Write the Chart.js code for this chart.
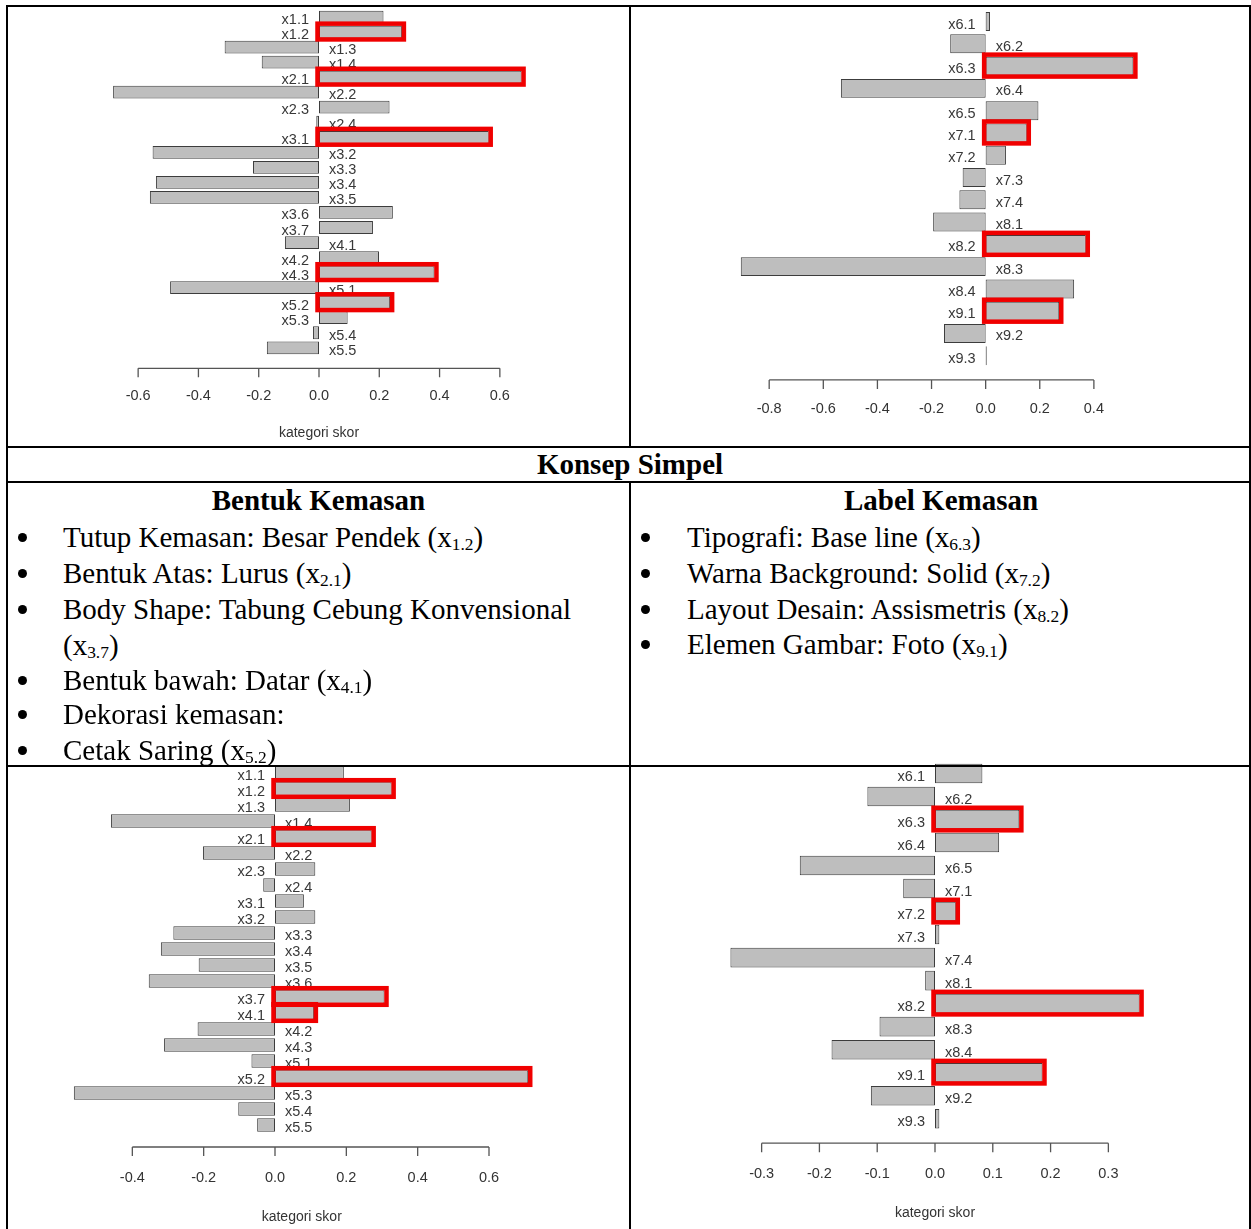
<!DOCTYPE html>
<html>
<head>
<meta charset="utf-8">
<script src="https://cdn.jsdelivr.net/npm/chart.js@4.4.0/dist/chart.umd.min.js"></script>
<style>
  body { margin: 0; background: #fff; width: 1251px; height: 1229px; position: relative; overflow: hidden;
         font-family: "Liberation Serif", "Times New Roman", serif; }
  canvas { position: absolute; }
  .ln { position: absolute; background: #000; z-index: 5; }
  .t { position: absolute; font-size: 29px; line-height: 36px; color: #000; white-space: nowrap; }
  .h { font-weight: bold; text-align: center; }
  .dot { position: absolute; width: 9px; height: 9px; border-radius: 50%; background: #000; }
  sub { font-size: 0.6em; vertical-align: -0.2em; line-height: 0; }
</style>
</head>
<body>

<!-- garis tabel -->
<div class="ln" style="left:6px;top:5px;width:1245px;height:2px"></div>
<div class="ln" style="left:6px;top:446px;width:1245px;height:2px"></div>
<div class="ln" style="left:6px;top:481px;width:1245px;height:2px"></div>
<div class="ln" style="left:6px;top:765px;width:1245px;height:2px"></div>
<div class="ln" style="left:6px;top:5px;width:2px;height:1224px"></div>
<div class="ln" style="left:629px;top:5px;width:2px;height:441px"></div>
<div class="ln" style="left:629px;top:481px;width:2px;height:748px"></div>
<div class="ln" style="left:1249px;top:5px;width:2px;height:1224px"></div>

<canvas id="atasKiri" width="620" height="438" style="left:8px;top:7px"></canvas>
<canvas id="atasKanan" width="617" height="438" style="left:632px;top:7px"></canvas>
<canvas id="bawahKiri" width="620" height="467" style="left:8px;top:762px"></canvas>
<canvas id="bawahKanan" width="617" height="471" style="left:632px;top:758px"></canvas>

<div class="t h" style="left:0;width:1260px;top:447px;line-height:34px">Konsep Simpel</div>

<div class="t h" style="left:8px;width:621px;top:482px">Bentuk Kemasan</div>
<div class="dot" style="left:18px;top:533px"></div>
<div class="t" style="left:63px;top:519px">Tutup Kemasan: Besar Pendek (x<sub>1.2</sub>)</div>
<div class="dot" style="left:18px;top:569px"></div>
<div class="t" style="left:63px;top:555px">Bentuk Atas: Lurus (x<sub>2.1</sub>)</div>
<div class="dot" style="left:18px;top:605px"></div>
<div class="t" style="left:63px;top:591px">Body Shape: Tabung Cebung Konvensional</div>
<div class="t" style="left:63px;top:627px">(x<sub>3.7</sub>)</div>
<div class="dot" style="left:18px;top:676px"></div>
<div class="t" style="left:63px;top:662px">Bentuk bawah: Datar (x<sub>4.1</sub>)</div>
<div class="dot" style="left:18px;top:710px"></div>
<div class="t" style="left:63px;top:696px">Dekorasi kemasan:</div>
<div class="dot" style="left:18px;top:746px"></div>
<div class="t" style="left:63px;top:732px">Cetak Saring (x<sub>5.2</sub>)</div>

<div class="t h" style="left:631px;width:620px;top:482px">Label Kemasan</div>
<div class="dot" style="left:641px;top:533px"></div>
<div class="t" style="left:687px;top:519px">Tipografi: Base line (x<sub>6.3</sub>)</div>
<div class="dot" style="left:641px;top:569px"></div>
<div class="t" style="left:687px;top:555px">Warna Background: Solid (x<sub>7.2</sub>)</div>
<div class="dot" style="left:641px;top:605px"></div>
<div class="t" style="left:687px;top:591px">Layout Desain: Assismetris (x<sub>8.2</sub>)</div>
<div class="dot" style="left:641px;top:640px"></div>
<div class="t" style="left:687px;top:626px">Elemen Gambar: Foto (x<sub>9.1</sub>)</div>

<script>
const labelsKiri = ['x1.1','x1.2','x1.3','x1.4','x2.1','x2.2','x2.3','x2.4','x3.1','x3.2','x3.3','x3.4',
                    'x3.5','x3.6','x3.7','x4.1','x4.2','x4.3','x5.1','x5.2','x5.3','x5.4','x5.5'];
const labelsKanan = ['x6.1','x6.2','x6.3','x6.4','x6.5','x7.1','x7.2','x7.3','x7.4','x8.1','x8.2','x8.3',
                     'x8.4','x9.1','x9.2','x9.3'];

// skor kategori
const skorAtasKiri = [0.214, 0.275, -0.313, -0.190, 0.672, -0.683, 0.234, -0.009, 0.563, -0.552, -0.219, -0.541,
                      -0.561, 0.245, 0.179, -0.113, 0.199, 0.383, -0.494, 0.236, 0.095, -0.020, -0.173];
const skorAtasKanan = [0.016, -0.131, 0.546, -0.535, 0.195, 0.152, 0.075, -0.085, -0.097, -0.194, 0.370, -0.905,
                       0.327, 0.272, -0.154, 0.004];
const skorBawahKiri = [0.193, 0.327, 0.210, -0.460, 0.271, -0.202, 0.113, -0.033, 0.081, 0.113, -0.285, -0.320,
                       -0.214, -0.354, 0.307, 0.109, -0.217, -0.311, -0.066, 0.710, -0.564, -0.103, -0.050];
const skorBawahKanan = [0.082, -0.117, 0.146, 0.111, -0.234, -0.055, 0.036, 0.0075, -0.354, -0.017, 0.354, -0.096,
                        -0.179, 0.186, -0.111, 0.0075];

// tick sumbu x
const tickAtasKiri = [-0.6, -0.4, -0.2, 0.0, 0.2, 0.4, 0.6];
const tickAtasKanan = [-0.8, -0.6, -0.4, -0.2, 0.0, 0.2, 0.4];
const tickBawahKiri = [-0.4, -0.2, 0.0, 0.2, 0.4, 0.6];
const tickBawahKanan = [-0.3, -0.2, -0.1, 0.0, 0.1, 0.2, 0.3];

// kategori yang diberi kotak merah
const pilihAtasKiri = ['x1.2', 'x2.1', 'x3.1', 'x4.3', 'x5.2'];
const pilihAtasKanan = ['x6.3', 'x7.1', 'x8.2', 'x9.1'];
const pilihBawahKiri = ['x1.2', 'x2.1', 'x3.7', 'x4.1', 'x5.2'];
const pilihBawahKanan = ['x6.3', 'x7.2', 'x8.2', 'x9.1'];

Chart.defaults.font.family = '"Liberation Sans", Arial, sans-serif';

// label kategori di samping garis nol, sisi berlawanan dari batang
const labelNol = {
  id: 'labelNol',
  afterDatasetsDraw(chart) {
    const ctx = chart.ctx;
    const x0 = chart.scales.x.getPixelForValue(0);
    const data = chart.data.datasets[0].data;
    ctx.save();
    ctx.font = '14.5px "Liberation Sans", Arial, sans-serif';
    ctx.fillStyle = '#383838';
    ctx.textBaseline = 'middle';
    chart.getDatasetMeta(0).data.forEach((bar, i) => {
      if (data[i] >= 0) {
        ctx.textAlign = 'right';
        ctx.fillText(chart.data.labels[i], x0 - 10, bar.y + 3);
      } else {
        ctx.textAlign = 'left';
        ctx.fillText(chart.data.labels[i], x0 + 10, bar.y + 3);
      }
    });
    ctx.restore();
  }
};

// kotak merah + garis sumbu gaya R
const hiasan = {
  id: 'hiasan',
  afterDraw(chart, args, opt) {
    const ctx = chart.ctx;
    const sx = chart.scales.x;
    ctx.save();
    ctx.strokeStyle = '#f00000';
    ctx.lineWidth = 4.5;
    chart.getDatasetMeta(0).data.forEach((bar, i) => {
      if (!opt.pilih.includes(chart.data.labels[i])) return;
      const l = Math.min(bar.x, bar.base) - 1.5;
      const r = Math.max(bar.x, bar.base) + 2;
      const t = bar.y - bar.height / 2 - 2;
      const b = bar.y + bar.height / 2 + 1;
      ctx.strokeRect(l, t, r - l, b - t);
    });
    const y = chart.chartArea.bottom + opt.jarak;
    ctx.strokeStyle = '#555';
    ctx.lineWidth = 1.3;
    ctx.beginPath();
    ctx.moveTo(sx.getPixelForValue(opt.ticks[0]), y);
    ctx.lineTo(sx.getPixelForValue(opt.ticks[opt.ticks.length - 1]), y);
    opt.ticks.forEach(v => {
      const px = sx.getPixelForValue(v);
      ctx.moveTo(px, y);
      ctx.lineTo(px, y + 9);
    });
    ctx.stroke();
    ctx.restore();
  }
};

function buatChart(id, labels, skor, ticks, pilih, set) {
  const ctx = document.getElementById(id).getContext('2d');
  return new Chart(ctx, {
    type: 'bar',
    data: {
      labels: labels,
      datasets: [{
        data: skor,
        backgroundColor: '#bebebe',
        borderColor: '#3c3c3c',
        borderWidth: 1,
        borderSkipped: false,
        categoryPercentage: 1.0,
        barPercentage: 0.85
      }]
    },
    options: {
      indexAxis: 'y',
      responsive: false,
      animation: false,
      devicePixelRatio: 1,
      layout: { padding: { top: set.top, left: set.left, right: set.right, bottom: 0 } },
      scales: {
        y: { display: false, offset: true },
        x: {
          type: 'linear',
          min: set.min,
          max: set.max,
          grid: { display: false, drawTicks: false },
          border: { display: false },
          afterBuildTicks: s => { s.ticks = ticks.map(v => ({ value: v })); },
          afterFit: s => { s.height = set.tinggi; },
          ticks: {
            padding: set.pad,
            color: '#333',
            font: { size: 14.5 },
            callback: v => Number(v).toFixed(1)
          },
          title: {
            display: set.judul,
            text: 'kategori skor',
            color: '#333',
            font: { size: 14 },
            padding: { top: 4, bottom: set.jb }
          }
        }
      },
      plugins: {
        legend: { display: false },
        tooltip: { enabled: false },
        hiasan: { pilih: pilih, ticks: ticks, jarak: set.jarak }
      }
    },
    plugins: [labelNol, hiasan]
  });
}

buatChart('atasKiri', labelsKiri, skorAtasKiri, tickAtasKiri, pilihAtasKiri,
  { min: -0.7, max: 0.7, top: 2.5, left: 100, right: 98, tinggi: 89.7, pad: 32, judul: true, jb: 3, jarak: 13 });
buatChart('atasKanan', labelsKanan, skorAtasKanan, tickAtasKanan, pilihAtasKanan,
  { min: -0.95, max: 0.6, top: 3.4, left: 96.6, right: 101, tinggi: 78.1, pad: 33, judul: false, jb: 4, jarak: 13 });
buatChart('bawahKiri', labelsKiri, skorBawahKiri, tickBawahKiri, pilihBawahKiri,
  { min: -0.6, max: 0.75, top: 3, left: 53, right: 85.5, tinggi: 96, pad: 36, judul: true, jb: 3, jarak: 14 });
buatChart('bawahKanan', labelsKanan, skorBawahKanan, tickBawahKanan, pilihBawahKanan,
  { min: -0.38, max: 0.38, top: 4, left: 83.4, right: 94.4, tinggi: 98.8, pad: 35, judul: true, jb: 7, jarak: 13 });
</script>
</body>
</html>
